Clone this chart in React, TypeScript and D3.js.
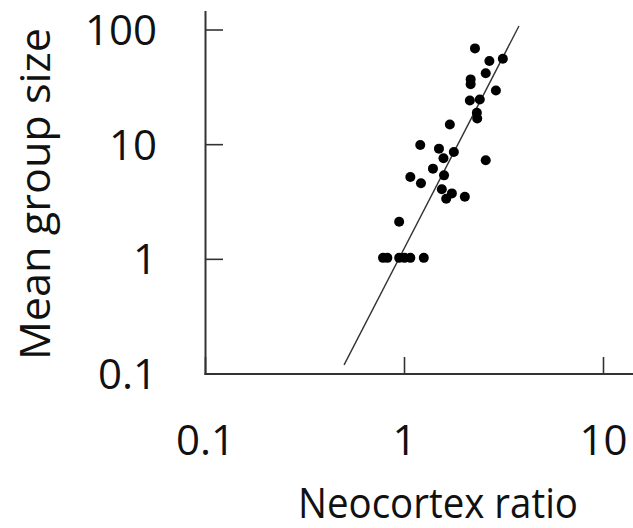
import * as d3 from 'd3'

// neocortex ratio vs mean group size
const ratio = [
	2.26, 2.67, 3.12, 2.56, 2.15, 2.15, 2.88, 2.13, 2.39, 2.31, 2.32, 1.69,
	1.2, 1.49, 1.57, 1.77, 2.56, 1.39, 1.07, 1.21, 1.58, 1.54, 1.73, 1.62, 2.01,
	0.94, 0.78, 0.82, 0.94, 1.0, 1.07, 1.25,
]
const groupSize = [
	69.1, 53.6, 56.2, 41.9, 37.1, 33.6, 29.7, 24.3, 24.8, 19.0, 16.9, 15.0,
	9.92, 9.23, 7.6, 8.62, 7.3, 6.18, 5.22, 4.6, 5.4, 4.08, 3.76, 3.38, 3.52,
	2.13, 1.03, 1.03, 1.03, 1.03, 1.03, 1.03,
]
// fitted line end points
const fitX = [0.497, 3.76]
const fitY = [0.12, 108.3]

const xTicks = [0.1, 1, 10]
const yTicks = [0.1, 1, 10, 100]

const width = 633
const height = 528
const font = '"Open Sans", sans-serif'

const App = () => {
	const x = d3.scaleLog().domain([0.1, 10]).range([205.5, 603.5])
	const y = d3.scaleLog().domain([0.1, 100]).range([374, 30])

	const line = d3
		.line<number>()
		.x((d) => x(fitX[d]))
		.y((d) => y(fitY[d]))

	const axisColor = '#333'

	return (
		<svg
			width={width}
			height={height}
			style={{ position: 'absolute', left: 0, top: 0, background: '#fff' }}
		>
			{/* axes */}
			<line x1={205.5} x2={205.5} y1={11} y2={375} stroke={axisColor} strokeWidth={2} />
			<line x1={204.5} x2={width} y1={374} y2={374} stroke={axisColor} strokeWidth={2} />
			{yTicks.map((t) => (
				<g key={'y' + t}>
					<line x1={205.5} x2={223} y1={y(t)} y2={y(t)} stroke={axisColor} strokeWidth={1.6} />
					<text
						x={157}
						y={y(t)}
						dy="0.36em"
						textAnchor="end"
						fontFamily={font}
						fontSize={42}
						fill="#111"
					>
						{t}
					</text>
				</g>
			))}
			{xTicks.map((t) => (
				<g key={'x' + t}>
					<line x1={x(t)} x2={x(t)} y1={374} y2={357} stroke={axisColor} strokeWidth={1.6} />
					<text
						x={x(t)}
						y={455}
						textAnchor="middle"
						fontFamily={font}
						fontSize={42}
						fill="#111"
					>
						{t}
					</text>
				</g>
			))}

			{/* fit line */}
			<path d={line([0, 1]) ?? ''} fill="none" stroke="#333" strokeWidth={1.4} />

			{/* points */}
			{ratio.map((r, i) => (
				<circle key={i} cx={x(r)} cy={y(groupSize[i])} r={5} fill="#000" />
			))}

			{/* titles */}
			<text
				x={438}
				y={518}
				textAnchor="middle"
				fontFamily={font}
				fontSize={42}
				textLength={280}
				lengthAdjust="spacingAndGlyphs"
				fill="#111"
			>
				Neocortex ratio
			</text>
			<text
				transform="translate(50,194) rotate(-90)"
				textAnchor="middle"
				fontFamily={font}
				fontSize={42}
				textLength={332}
				lengthAdjust="spacingAndGlyphs"
				fill="#111"
			>
				Mean group size
			</text>
		</svg>
	)
}

export default App
